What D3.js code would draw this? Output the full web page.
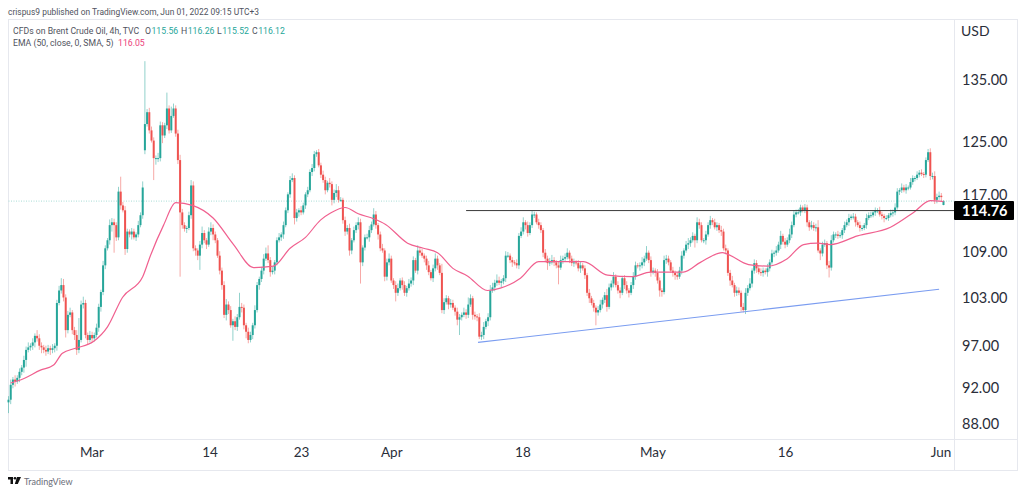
<!DOCTYPE html>
<html><head><meta charset="utf-8">
<script src="https://cdn.jsdelivr.net/npm/d3@7"></script>
<style>html,body{margin:0;padding:0;background:#fff}svg{display:block}text{font-family:Lato,sans-serif}</style>
</head><body><div id="c"></div>
<script>
const closes=[90.7,92.4,93,92.8,93.2,93.9,94.4,95.3,96.5,96.8,97,97.4,98.2,97.9,97,96.8,96.5,96.3,96.7,96.5,96.7,97,
102.3,103.9,104.6,103,98.9,100.8,101.1,98.9,98.3,96.5,97.7,102.1,102.3,98.3,97.7,98.3,97.9,98.3,99.2,101.8,103.7,107.2,109.5,110.6,112.7,113.1,112.7,111,117.5,115.5,114.8,109.4,111.8,111.4,111.8,111,111.4,112.7,114.1,118.1,
127.8,129.7,126.8,125.2,122.5,122.5,122.5,127.6,126,127.6,130.3,126.8,129.1,130.3,126.3,122.2,114.5,112.7,112.2,112.3,114.1,118.4,109.5,109.2,108.5,110,111.6,110.6,110,111.8,112.3,111.4,110.6,108.5,106.5,104.6,100.8,102.1,101.4,99.5,100,99.3,100.5,101.8,101.7,99.5,98.7,97.7,98.3,99.5,101.4,
104.6,105.4,106.5,108.1,108.8,107.9,106.3,106.5,107.6,110.6,111,111.4,112.7,114.8,117.1,119.2,119.5,113.7,114.5,114.8,114.5,115.5,117.1,117.7,120.4,121,123.1,123.4,121.4,120,119.2,117.7,118.8,118.6,116.3,117.3,117.7,
116.3,116.3,113.4,111.8,112.3,109.2,110.6,112,112.7,113.1,107.6,109.6,111,111,112,112.8,114.2,112.7,111.4,109.5,109.2,105.7,107.6,108.1,105.2,104.6,103.6,104.2,105.2,104.6,103.6,104.2,104.8,105.2,107.9,106.5,109.2,108.9,108.5,108.1,107.2,106.3,105.5,106.8,108.1,107.2,106.2,101.4,102.4,102.9,
102.1,102.3,101.7,101.2,100.2,100.5,100.8,101.1,100.8,102.1,102.9,100.8,100.6,100.5,98.1,98.3,99.3,100,100.5,103.9,104.3,104.9,105.2,104.9,105.1,105.5,108.5,108.5,107.9,107.6,107.5,107.2,111.2,111.8,113.1,112.7,111.6,112.7,114.2,114.2,113.1,112.7,112,108.9,108.1,107.5,107.6,107.9,107.6,107.2,106.9,107.9,108.1,108.3,108.9,108.1,107.5,107.6,107.5,106.8,107.2,106.8,105.9,103.6,102.9,102.3,101.7,101.1,101.4,102.1,102.7,103.3,101.8,104.3,104.8,105.7,104.6,103.9,103.6,105.5,104.6,103.9,103.6,104.6,105.7,107.2,107.1,107.2,107.6,108.1,108.9,107.9,106.3,106.5,106.2,105.2,103.9,103.7,107.9,108.1,
107.6,106.5,106.2,105.9,105.7,106.5,108.5,109.2,110,110.2,110.6,111.2,110.6,113.1,112.7,110.6,110.6,111.4,112.7,113.4,113.1,112.4,112.7,112,111.8,109.5,109.2,106.2,105.2,104.6,103.6,103.9,103.6,101.8,101.4,103.6,104.2,104.8,106.5,107.5,106.8,106.3,106.2,106.5,106.3,106.8,107.6,108.8,108.9,109.2,110,111.2,110.4,110,110.6,111.4,112.7,114.2,114.5,114.5,115.2,114.8,115.2,113.1,112.4,112.7,112.3,112.4,109.2,108.8,110,110.2,107.2,106.9,110.6,111.4,111.4,111.2,111.3,112,112.7,113.1,113.7,113.9,113.9,113.1,112.7,112.3,112.3,112.7,113.7,114.1,114.1,114.5,114.8,114.8,114.2,114,113.7,113.7,114.1,114.4,114.5,115.2,117.5,117.7,118.1,117.7,118.1,118.1,118.9,119.5,119.5,120,120.3,120.1,120,122.2,123.4,119.8,119.8,116.3,116.7,116.9,116.7,116.12];
const openOverrides={62:123.7,425:115.56};
const upperWick=[.4,.6,.3,.5,.3,.4,.3,.5,.4,.6,.3,.5,.3,.7,.5,.4,.3,.5,.4,.3,
.5,.3,.4,.6,.9,.8,.4,.5,.6,.3,.4,.6,2.7,.5,.8,.4,.3,.5,.4,.3,
.5,.4,.3,.6,.4,.3,.8,.6,.5,.4,.7,2.2,.5,.6,.4,.3,.5,.4,.3,.6,
.4,.9,10.4,.5,.7,.6,.5,.4,.8,.6,.5,.4,2.6,.5,1.5,.8,.5,.6,.8,.5,
.4,.3,.5,.8,.6,.4,.3,.5,.9,.4,.3,.6,.8,.5,.4,.3,.6,.4,.5,.7,
.4,.5,.3,.6,.4,1.8,.5,.4,.3,.5,.4,.3,.6,.4,.3,.5,.6,.8,1.1,.4,
.5,.3,.4,.6,.3,.5,.4,.3,.6,.7,.4,.5,.3,.6,.4,.3,.5,.4,.6,.5,
.3,.5,.4,.6,.5,.3,.7,.4,.5,.9,.6,.4,.3,.5,.4,.6,.3,.5,.4,.7,
.5,.3,.4,.5,.6,.4,.9,.5,.3,.4,.6,.3,.5,.7,.4,.3,.5,.6,.3,.4,
.5,.3,.6,.4,.5,.3,.7,.4,.5,.3,.4,.6,.3,.5,.7,.4,.3,1.2,.5,.4,
.3,.5,.4,.3,.5,.4,.3,.6,.4,.9,.5,.3,.4,.3,.5,.4,.6,.3,.5,.7,
.6,.4,.8,.5,.3,.4,.6,.5,.3,.4,.3,.5,.4,.6,.7,.3,.5,.4,.5,.4,
.3,.5,.4,.3,.5,.4,.6,.7,.4,.3,.5,.6,.4,.5,.6,.3,.4,.5,.3,.4,
.5,.3,.4,.3,.5,.3,.4,.3,.5,.6,.3,.4,.8,.5,.4,.6,.3,.5,.4,.3,
.4,.5,.3,.4,.6,.5,.3,.4,.7,.4,.9,.3,.5,.4,.3,.5,.4,.3,.6,.5,
.4,.3,.5,.3,.4,.5,.6,.3,.5,.7,.4,.5,.3,.7,.5,.4,.3,.5,.4,.6,
.3,.5,.4,.3,.6,.4,.5,.3,.4,.6,.3,.5,.4,.3,.5,.6,.4,.7,.3,.5,
.4,.3,.5,.4,.3,.6,.4,.5,.3,.6,.4,.7,.3,.5,.4,.8,.5,.6,.4,.5,
.4,.3,.5,.4,.3,.6,.4,.5,1,.3,.4,.5,.3,.6,.7,.4,.3,.5,.4,.3,
.5,.4,.6,.3,.5,.4,.3,.5,.4,.3,.6,.4,.5,.3,.4,.3,.5,.4,.3,.4,
.3,.5,.4,.6,.5,.3,.6,.4,.5,.3,.6,.4,.3,.5,.4,.5,.3,.4,.5,.6,
.5,.7,.5,.6,.4,.14];
const lowerWick=[1.2,.5,.4,.6,.3,.5,.4,.6,.8,.3,.4,.5,.6,.4,.5,.7,.4,.5,.3,.6,
.4,.5,.6,.3,.4,.5,.9,.4,.3,.5,.6,.6,.4,.3,.5,.4,.6,.3,.5,.4,
.3,.5,.6,.4,.5,.3,.6,.9,3.8,.5,.4,.6,.3,.8,.5,.4,.7,.3,.5,.4,
.3,.5,.6,.4,.5,.3,3.3,1,.6,.5,1.2,.4,.6,.5,.4,.3,.5,.6,8.8,.5,
.4,.6,.3,.5,.4,.7,.6,1.9,.5,.4,.6,.3,.5,.8,.4,.3,.5,.6,.4,.7,
.5,.3,1.9,.4,.5,.3,.6,.5,.8,.4,.3,.5,.4,.3,.6,.4,.5,.3,.4,.6,
.3,.5,.4,.3,.5,.6,.3,.4,.5,.3,.9,.5,.6,.4,.3,.5,.4,.3,.6,.5,
.4,.3,.5,.4,.6,.3,.5,.8,.5,.6,.4,.3,.5,.6,.4,.7,.5,.3,.4,.6,
2.8,.5,.4,.3,.6,.4,.3,.5,.7,.4,.3,.6,.5,.4,.3,.5,1.1,.4,.3,.6,
.4,.5,.3,.4,.6,.3,.5,.4,.3,.5,.6,.4,.3,.5,.4,.6,.3,.4,.5,.3,
.6,.4,.3,.5,.7,1.9,.4,.3,.5,.4,.3,.6,.4,.5,.3,.4,.5,.3,.6,.4,
.3,.5,.4,.3,.6,.4,.5,.3,.4,.6,.3,.4,.5,.3,.4,.6,.5,.3,.4,.5,
.3,.5,.4,.6,.5,.9,.4,.3,.5,.4,2.2,.3,.5,.4,.3,.6,.4,.5,.3,.4,
.6,.3,.5,.4,.6,.3,.5,1.6,.4,.3,.5,.4,.6,.3,.4,.5,.3,.4,.7,.3,
.5,.4,.6,.3,.5,.4,.3,.6,.4,.5,.3,.4,.6,.3,.5,.4,.8,.6,.3,.5,
.4,.3,.5,.6,.4,.3,.5,.4,.3,.6,.5,.3,1,.4,.5,.3,.4,.6,.3,.5,
.4,.3,.5,.4,.6,.3,.5,.4,.7,.3,.5,.4,.3,.6,.3,.5,.4,.3,.5,.4,
.6,.3,.4,.5,.3,.6,.4,.3,.5,.4,.3,.6,.4,.5,.3,.4,.5,.3,.4,.3,
.5,.3,.4,.6,.5,.3,.4,.5,.3,.9,.4,.3,.5,1.3,.4,.3,.5,.4,.3,.5,
.4,.3,.5,.3,.4,.6,.3,.5,.4,.3,.5,.3,.4,.3,.5,.4,.3,.5,.6,.3,
.4,.3,.5,.4,.3,.5,.4,.3,.5,.4,.3,.4,.5,.3,.4,.3,.5,.4,.3,.6,
.5,.6,.5,.4,.6,.04];
const emaBars=[1,6.8,14.5,20.5,24.5,30.5,38.6,45,51.8,61,64.5,70.5,76,83.6,93,102.3,111.4,120.5,128,135,141.8,146.4,153,159,166,171.4,181.4,188.6,195,202,208.6,217.7,223.6,232.7,241,249.5,261.4,272.3,283.6,291.8,301,306.8,314.5,324.5,326.8,336.4,345,354,361.4,367.7,373.6,385.9,400.9,411.4,419,425];
const emaValues=[92.6,93.1,94.1,94.7,96.1,96.7,97.5,99.3,103,105.7,108.5,112.7,115.9,115.5,113.7,110,106.9,107.1,109.5,111,113.4,114.4,115.2,114.3,113.6,112.8,110.2,109.5,108.9,106.8,105.8,103.9,104.2,105.5,107.7,107.7,107.7,105.9,105.7,106.3,106.3,106.3,107.6,108.9,108.7,107.3,107.1,108.1,110,110.2,110,111.2,112.4,114.5,116.2,116.05];
const priceTicks=[135,125,117,109,103,97,92,88];
const timeTickBars=[37.7,91.4,133,174,233.6,292.7,353,423.6];
const timeTickLabels=["Mar","14","23","Apr","18","May","16","Jun"];
const lastClose=116.12, resistance=114.76, resistanceStartBar=208;
const supportBars=[213.4,423], supportValues=[97.4,104.06];
const legendMain="CFDs on Brent Crude Oil, 4h, TVC", ohlcLabels=["O","H","L","C"], ohlcValues=["115.56","116.26","115.52","116.12"];

const W=1024,H=495,green="#26a69a",red="#ef5350";
const svg=d3.select("#c").append("svg").attr("width",W).attr("height",H);
const x=d3.scaleLinear().domain([0,425]).range([8.5,943.5]);
const y=d3.scaleLog().domain([88,135]).range([424,80]);

const candles=closes.map((c,i)=>{const o=openOverrides[i]??(i?closes[i-1]:c-.3);
 return {i,o,c,h:Math.max(o,c)+(upperWick[i]??.3),l:Math.min(o,c)-(lowerWick[i]??.3)}});

// frame
svg.append("rect").attr("x",8.5).attr("y",19.5).attr("width",1009).attr("height",451).attr("fill","none").attr("stroke","#e6e8ee");
svg.append("line").attr("x1",954.5).attr("x2",954.5).attr("y1",19.5).attr("y2",470.5).attr("stroke","#e6e8ee");
svg.append("line").attr("x1",8.5).attr("x2",1017.5).attr("y1",439.5).attr("y2",439.5).attr("stroke","#e6e8ee");

// last price dotted line
svg.append("line").attr("x1",x(0)).attr("x2",954).attr("y1",y(lastClose)).attr("y2",y(lastClose))
 .attr("stroke","#a8dcd6").attr("stroke-dasharray","1 1.5");

// candles
const g=svg.append("g");
g.selectAll("line.w").data(candles).join("line").attr("class","w")
 .attr("x1",d=>x(d.i)).attr("x2",d=>x(d.i)).attr("y1",d=>y(d.h)).attr("y2",d=>y(d.l))
 .attr("stroke",d=>d.c>=d.o?green:red).attr("stroke-opacity",.5).attr("stroke-width",1);
g.selectAll("rect").data(candles).join("rect")
 .attr("x",d=>x(d.i)-1).attr("width",2)
 .attr("y",d=>y(Math.max(d.o,d.c))).attr("height",d=>Math.max(1,y(Math.min(d.o,d.c))-y(Math.max(d.o,d.c))))
 .attr("fill",d=>d.c>=d.o?green:red);

// EMA
const ema=d3.line().x((d,i)=>x(emaBars[i])).y(d=>y(d)).curve(d3.curveMonotoneX);
svg.append("path").attr("d",ema(emaValues)).attr("fill","none").attr("stroke","#f0608f").attr("stroke-width",1.2);

// drawn lines
svg.append("line").attr("x1",x(resistanceStartBar)).attr("x2",954).attr("y1",y(resistance)).attr("y2",y(resistance)).attr("stroke","#3a3a3a").attr("stroke-width",1);
svg.append("line").attr("x1",x(supportBars[0])).attr("x2",x(supportBars[1])).attr("y1",y(supportValues[0])).attr("y2",y(supportValues[1])).attr("stroke","#7a9cf0").attr("stroke-width",1.1);

// axes
const ya=svg.append("g").attr("transform","translate(954,0)")
 .call(d3.axisRight(y).tickValues(priceTicks).tickFormat(d3.format(".2f")).tickSize(0).tickPadding(8));
ya.select(".domain").remove();
ya.selectAll("text").attr("font-size",14.5).attr("fill","#2a2e39").style("font-family","Lato");
const xa=svg.append("g").attr("transform","translate(0,440)")
 .call(d3.axisBottom(d3.scaleOrdinal().domain(timeTickBars).range(timeTickBars.map(b=>x(b)))).tickFormat((d,i)=>timeTickLabels[i]).tickSize(0).tickPadding(7));
xa.select(".domain").remove();
xa.selectAll("text").attr("font-size",13.5).attr("fill","#2a2e39").style("font-family","Lato");

// price label
svg.append("rect").attr("x",954).attr("y",y(resistance)-9.5).attr("width",60).attr("height",19).attr("fill","#000").attr("rx",1);
svg.append("text").attr("x",962).attr("y",y(resistance)+5).attr("fill","#fff").attr("font-size",14.5).attr("font-weight",700).text(d3.format(".2f")(resistance));
svg.append("text").attr("x",961).attr("y",36).attr("fill","#2a2e39").attr("font-size",14).text("USD");

// header and legend
const line=(px,py)=>svg.append("text").attr("x",px).attr("y",py).attr("font-size",8.7).attr("fill","#50535e").style("font-family","Roboto");
line(8,14.5).attr("textLength",251).attr("lengthAdjust","spacingAndGlyphs").text("crispus9 published on TradingView.com, Jun 01, 2022 09:15 UTC+3");
const l1=line(13,33.5);
l1.append("tspan").text(legendMain);
const ohlcX=[145,181,217,252];
ohlcLabels.forEach((k,i)=>{l1.append("tspan").attr("x",ohlcX[i]).text(k);l1.append("tspan").attr("dx",.5).attr("fill",green).text(ohlcValues[i]);});
const l2=line(13,45.5);
l2.append("tspan").text("EMA (50, close, 0, SMA, 5)");
l2.append("tspan").attr("x",118).attr("fill","#ec407a").text(d3.format(".2f")(emaValues[emaValues.length-1]));

// logo
const logo=svg.append("g").attr("transform","translate(8,477)").attr("fill","#111");
logo.append("path").attr("d","M0 0H5V7H2.5V2.5H0Z");
logo.append("circle").attr("cx",7).attr("cy",1.3).attr("r",1.3);
logo.append("path").attr("d","M9 0H13L9.8 7H6.8Z");
svg.append("text").attr("x",24).attr("y",484.5).attr("font-size",9).attr("fill","#6a6d78").text("TradingView");
</script></body></html>
